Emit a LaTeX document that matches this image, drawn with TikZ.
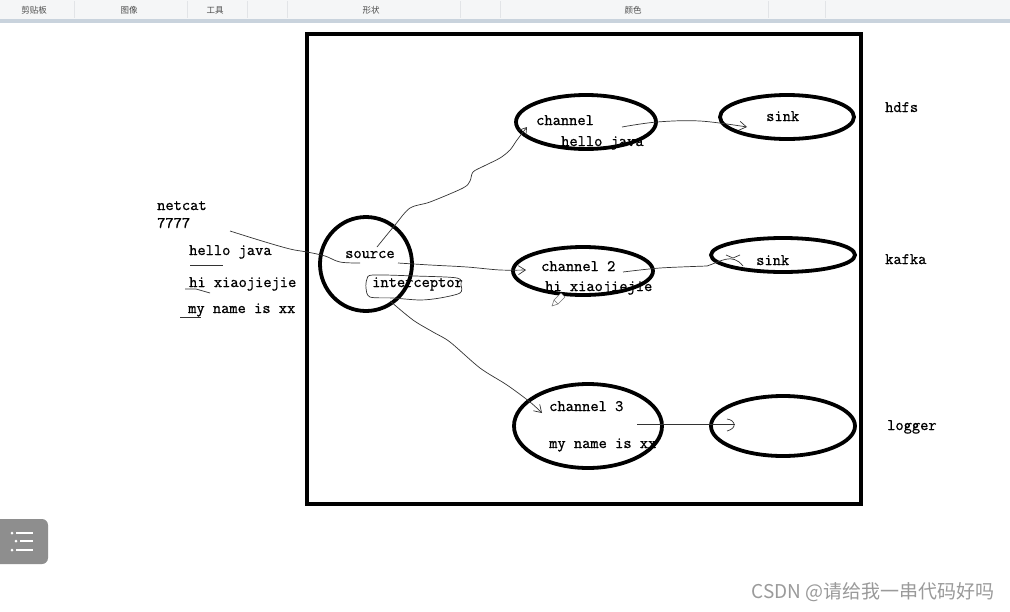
\documentclass[tikz,border=0pt]{standalone}
\usepackage{fontspec}
\usetikzlibrary{arrows.meta}
\newfontface\monof[FakeBold=0.9]{Latin Modern Mono}
\newfontfamily\cjkf{Noto Sans CJK SC}
\definecolor{barbg}{HTML}{F5F6F7}
\definecolor{barline}{HTML}{C9D3DD}
\definecolor{sepc}{HTML}{E2E4E7}
\definecolor{pen}{HTML}{333333}
\definecolor{wm}{HTML}{9A9A9A}
\definecolor{menubox}{HTML}{8E8E8E}
\tikzset{
  bigshape/.style={draw=black,line width=3.8pt},
  lbl/.style={font=\monof\fontsize{16}{16}\selectfont,anchor=base west,inner sep=0pt,text=black},
  tbl/.style={font=\cjkf\fontsize{8.5}{9}\selectfont,text=black!70,inner sep=0pt},
  hand/.style={draw=pen,line width=0.7pt},
  barb/.style={-{Straight Barb[length=7pt,width=9pt,line width=0.7pt]}}
}
\begin{document}
\begin{tikzpicture}[x=1pt,y=-1pt]
\useasboundingbox (0,0) rectangle (1010,611);
\fill[white] (0,0) rectangle (1010,611);
% toolbar
\fill[barbg] (0,0) rectangle (1010,19);
\fill[barline] (0,19) rectangle (1010,23);
\foreach \sx in {74,187,247,287,460,500,768,825}{\draw[sepc,line width=0.6pt] (\sx,1) -- (\sx,18);}
\node[tbl] (t1) at (34,10) {剪贴板};
\node[tbl] (t2) at (129,10) {图像};
\node[tbl] (t3) at (215,10) {工具};
\node[tbl] (t4) at (371,10) {形状};
\node[tbl] (t5) at (633,10) {颜色};
% main frame
\draw[draw=black,line width=3.5pt] (307,34) rectangle (861,504);
% ellipses
\draw[bigshape] (366,264) ellipse [x radius=46,y radius=47];
\draw[bigshape] (586,122) ellipse [x radius=70,y radius=27];
\draw[bigshape] (787,117) ellipse [x radius=67,y radius=22];
\draw[bigshape] (583,271) ellipse [x radius=70,y radius=24];
\draw[bigshape] (783,255) ellipse [x radius=72,y radius=17];
\draw[bigshape] (588,426) ellipse [x radius=74,y radius=42];
\draw[bigshape] (783,426) ellipse [x radius=72,y radius=30];
% left labels
\node[lbl] (netcat) at (157,210) {netcat};
\node[lbl] (port) at (157,228) {7777};
\node[lbl] (l1) at (189,255) {hello java};
\node[lbl] (l2) at (189,287) {hi xiaojiejie};
\node[lbl] (l3) at (188,313) {my name is xx};
% inside
\node[lbl] (src) at (345,258) {source};
\node[lbl] (icp) at (372,287) {interceptor};
\node[lbl] (ch1) at (536,125) {channel};
\node[lbl] (m1) at (561,146) {hello java};
\node[lbl] (sk1) at (766,121) {sink};
\node[lbl] (ch2) at (541,271) {channel 2};
\node[lbl] (m2) at (545,291) {hi xiaojiejie};
\node[lbl] (sk2) at (756,265) {sink};
\node[lbl] (ch3) at (549,411) {channel 3};
\node[lbl] (m3) at (549,448) {my name is xx};
\node[lbl] (hdfs) at (885,112) {hdfs};
\node[lbl] (kafka) at (885,264) {kafka};
\node[lbl] (logger) at (887,430) {logger};
% underlines
\draw[hand] (190,265) -- (223,265);
\draw[hand] (185,289) -- (196,289) -- (210,293);
\draw[hand] (180,317) -- (201,317);
% coordinates
\coordinate (a0) at (230,231);
\coordinate (a1) at (360,263);
\coordinate (b0) at (377,247);
\coordinate (b1) at (527,127);
\coordinate (c0) at (398,263);
\coordinate (c1) at (526,270);
\coordinate (d0) at (390,301);
\coordinate (d1) at (542,413);
\coordinate (e0) at (622,127);
\coordinate (e1) at (747,127);
\coordinate (f0) at (623,272);
\coordinate (f1) at (707,266);
\coordinate (g0) at (637,424);
\coordinate (g1) at (735,424);
% netcat to source
\draw[hand] plot[smooth,tension=0.6] coordinates {(a0) (262,241) (290,249) (307,252) (325,256) (340,262) (a1)};
% source to channel 1
\draw[hand,barb] plot[smooth,tension=0.5] coordinates {(b0) (395,225) (410,208) (430,202) (463,188) (470,181) (473,172) (484,166) (500,158) (510,150) (517,140) (b1)};
% source to channel 2
\draw[hand,barb] plot[smooth,tension=0.5] coordinates {(c0) (430,265) (467,267) (500,270) (c1)};
% interceptor loop
\draw[hand] plot[smooth cycle,tension=0.5] coordinates {(373,275) (415,276) (457,278) (461,285) (460,293) (440,298) (420,300) (393,298) (370,297) (366,288) (367,279)};
% interceptor to channel 3
\draw[hand,barb] plot[smooth,tension=0.5] coordinates {(d0) (413,320) (433,332) (450,342) (480,368) (507,385) (530,402) (d1)};
% channel 1 to sink 1
\draw[hand,barb] plot[smooth,tension=0.6] coordinates {(e0) (657,122) (700,121) (e1)};
% channel 2 to sink 2
\draw[hand] plot[smooth,tension=0.5] coordinates {(f0) (660,268) (f1)};
\draw[hand] (f1) .. controls (720,262) and (732,252) .. (743,266);
\draw[hand] (726,255) -- (733,258) -- (740,255);
% channel 3 to logger ellipse
\draw[hand] (g0) -- (g1);
\draw[hand] (727,419) .. controls (735,420) and (738,428) .. (727,431);
% pencil
\draw[black!55,line width=0.6pt,fill=white,line join=round] (552,306) -- (554,300) -- (561,293) -- (565,297) -- (558,304) -- cycle;
\draw[black!55,line width=0.6pt] (554,300) -- (558,304);
% bottom-left menu button
\fill[menubox,rounded corners=6pt] (-8,519) rectangle (48,564);
\foreach \yy/\xx in {533/12,541/16,550/12}{
  \fill[white] (\xx,\yy) circle (1.5);
  \fill[white] (\xx+4,\yy-1) rectangle (33,\yy+1);
}
% watermark
\node[font=\cjkf\fontsize{19}{20}\selectfont,text=wm,anchor=base east,inner sep=0pt] (wmk) at (995,598) {CSDN @请给我一串代码好吗};
\end{tikzpicture}
\end{document}
